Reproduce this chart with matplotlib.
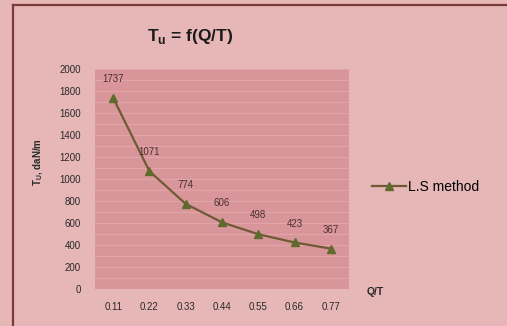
import numpy as np
import matplotlib
matplotlib.use("Agg")
import matplotlib.pyplot as plt
from matplotlib.lines import Line2D

plt.rcParams['font.family'] = ['Liberation Sans', 'DejaVu Sans']

# tension vs Q/T, least squares method
q_t = ["0.11", "0.22", "0.33", "0.44", "0.55", "0.66", "0.77"]
tu = [1737, 1071, 774, 606, 498, 423, 367]
y_ticks = [0, 200, 400, 600, 800, 1000, 1200, 1400, 1600, 1800, 2000]

bg = "#e7b6b6"
plot_bg = "#d9969a"
line_col = "#6e5a34"
marker_col = "#5e6b2c"
txt = "#2a2a2a"

fig = plt.figure(figsize=(5.07, 3.26), dpi=100, facecolor=bg)
# outer chart frame: top and left edges
frame_x = 12.5 / 507
frame_y = 1 - 5 / 326
fig.lines.append(Line2D([frame_x, 1.1], [frame_y, frame_y], transform=fig.transFigure,
                        color="#7b3a3a", linewidth=1.6))
fig.lines.append(Line2D([frame_x, frame_x], [-0.1, frame_y], transform=fig.transFigure,
                        color="#7b3a3a", linewidth=1.6))

ax = fig.add_axes([95 / 507, 1 - 289 / 326, 254 / 507, 220 / 326])
ax.set_facecolor(plot_bg)

x = np.arange(len(q_t)) + 0.5
ax.plot(x, tu, color=line_col, linewidth=1.6, marker="^", markersize=6,
        markerfacecolor=marker_col, markeredgecolor=marker_col,
        label="L.S method", zorder=3)
for xi, v in zip(x, tu):
    ax.annotate(str(v), (xi, v), xytext=(0, 10), textcoords="offset points",
                ha="center", va="bottom", fontsize=7, color="#4a3030")

ax.set_xlim(0, len(q_t))
ax.set_ylim(0, 2000)
ax.set_xticks(x)
ax.set_xticklabels(q_t)
ax.set_yticks(y_ticks)
ax.set_yticks(np.arange(0, 2001, 100), minor=True)
ax.grid(which="both", axis="y", color="#e3a5a8", linewidth=0.8)
ax.set_axisbelow(True)
ax.tick_params(axis="both", which="both", length=0, labelsize=7, colors=txt)
ax.tick_params(axis="x", pad=9)
ax.tick_params(axis="y", pad=10)
for s in ax.spines.values():
    s.set_visible(False)

fig.text(190 / 507, 1 - 36 / 326, r"T$_\mathregular{u}$ = f(Q/T)", ha="center",
         va="center", fontsize=12.5, fontweight="bold", color="#1a1a1a")
fig.text(38 / 507, 1 - 162 / 326, r"T$_\mathregular{U}$, daN/m", rotation=90,
         ha="center", va="center", fontsize=7, fontweight="bold", color=txt)
fig.text(375 / 507, 1 - 292 / 326, "Q/T", ha="center", va="center",
         fontsize=7.5, fontweight="bold", color=txt)

ax.legend(loc="center left", bbox_to_anchor=(1.07, 0.465), frameon=False,
          fontsize=10, handlelength=2.4, handletextpad=0.15, borderaxespad=0)

fig.savefig("out.png", dpi=100, facecolor=bg)
